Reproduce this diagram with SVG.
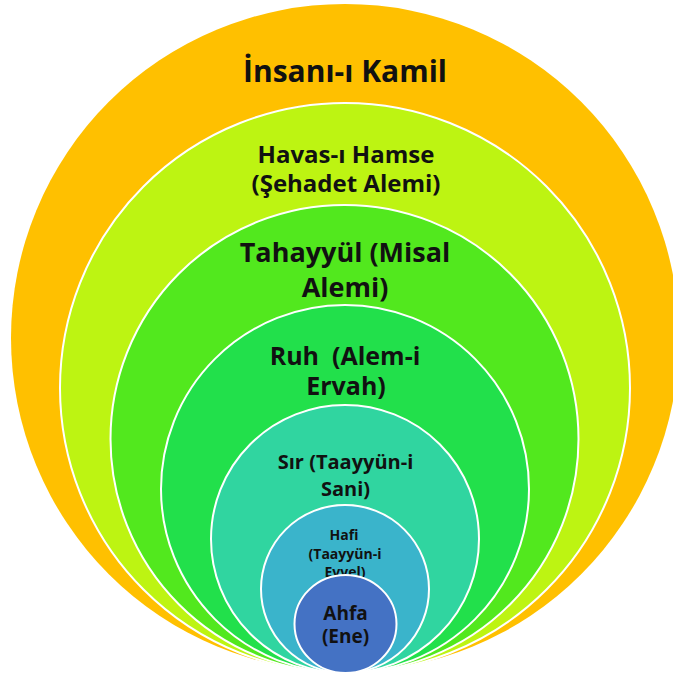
<svg xmlns="http://www.w3.org/2000/svg" width="673" height="677" viewBox="0 0 673 677">
<style>
.ring{stroke:#ffffff;stroke-width:2}
.t{font-family:"Open Sans","Liberation Sans",sans-serif;font-weight:700;fill:#111111;text-anchor:middle}
</style>
<rect width="673" height="677" fill="#ffffff"/>
<g id="insan">
<circle cx="345" cy="338" r="334" fill="#FFC000"/>
<text class="t" x="345" y="82" font-size="30">İnsanı-ı Kamil</text>
</g>
<g id="havas">
<circle class="ring" cx="345" cy="388" r="285" fill="#BDF412"/>
<text class="t" x="346" y="163" font-size="24">Havas-ı Hamse</text>
<text class="t" x="346" y="192" font-size="24">(Şehadet Alemi)</text>
</g>
<g id="tahayyul">
<circle class="ring" cx="344.5" cy="439" r="234" fill="#52E81E"/>
<text class="t" x="345" y="262" font-size="27">Tahayyül (Misal</text>
<text class="t" x="345" y="297" font-size="27">Alemi)</text>
</g>
<g id="ruh">
<circle class="ring" cx="345" cy="489" r="184" fill="#22E04B"/>
<text class="t" x="345" y="365" font-size="25" xml:space="preserve">Ruh  (Alem-i</text>
<text class="t" x="346" y="395" font-size="25">Ervah)</text>
</g>
<g id="sir">
<circle class="ring" cx="345" cy="539" r="134" fill="#30D5A0"/>
<text class="t" x="345.5" y="469" font-size="20">Sır (Taayyün-i</text>
<text class="t" x="345.5" y="496" font-size="20">Sani)</text>
</g>
<g id="hafi">
<circle class="ring" cx="345" cy="589" r="84" fill="#3AB4CB"/>
<text class="t" x="344" y="540" font-size="14">Hafi</text>
<text class="t" x="345" y="559" font-size="14">(Taayyün-i</text>
<text class="t" x="345" y="577" font-size="14">Evvel)</text>
</g>
<g id="ahfa">
<ellipse class="ring" cx="345.5" cy="624" rx="51" ry="49" fill="#4472C4"/>
<text class="t" x="345.5" y="620" font-size="19">Ahfa</text>
<text class="t" x="345.5" y="643" font-size="19">(Ene)</text>
</g>
</svg>
